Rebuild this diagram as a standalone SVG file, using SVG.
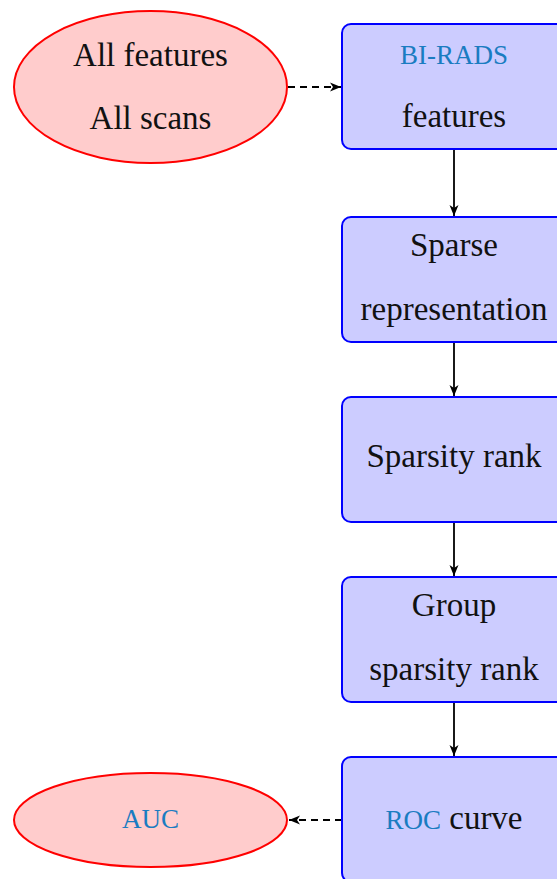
<svg xmlns="http://www.w3.org/2000/svg" width="557" height="879" viewBox="0 0 557 879">
  <style>
    .box { fill: #ccccff; stroke: #0000ff; stroke-width: 2; }
    .oval { fill: #ffcccc; stroke: #ff0000; stroke-width: 2; }
    .t { font-family: "Liberation Serif", "Times New Roman", serif; font-size: 33px; fill: #111; text-anchor: middle; }
    .s { font-family: "Liberation Serif", "Times New Roman", serif; font-size: 27px; fill: #1a7cc1; }
    .link { stroke: #000; stroke-width: 1.8; fill: none; }
    .dash { stroke-dasharray: 7 5; }
  </style>
  <defs>
    <!-- stealth-style arrow tip with a notched back -->
    <marker id="head" viewBox="0 0 11 10" refX="11" refY="5" markerWidth="11" markerHeight="10" markerUnits="userSpaceOnUse" orient="auto">
      <path d="M0,0.5 L11,5 L0,9.5 L3,5 Z" fill="#000"/>
    </marker>
  </defs>

  <g id="connectors">
    <line class="link dash" x1="288" y1="87" x2="341" y2="87" marker-end="url(#head)"/>
    <line class="link" x1="454" y1="149" x2="454" y2="216" marker-end="url(#head)"/>
    <line class="link" x1="454" y1="342" x2="454" y2="396" marker-end="url(#head)"/>
    <line class="link" x1="454" y1="522" x2="454" y2="576" marker-end="url(#head)"/>
    <line class="link" x1="454" y1="702" x2="454" y2="756" marker-end="url(#head)"/>
    <line class="link dash" x1="342" y1="820" x2="289" y2="820" marker-end="url(#head)"/>
  </g>

  <g id="all-data">
    <ellipse class="oval" cx="150.5" cy="87" rx="136.5" ry="76"/>
    <text class="t" x="150.5" y="66">All features</text>
    <text class="t" x="150.5" y="129">All scans</text>
  </g>

  <g id="birads">
    <rect class="box" x="342" y="24" width="224" height="125" rx="9"/>
    <text class="s" x="454" y="64" text-anchor="middle">BI-RADS</text>
    <text class="t" x="454" y="127">features</text>
  </g>

  <g id="sparse-rep">
    <rect class="box" x="342" y="217" width="224" height="125" rx="9"/>
    <text class="t" x="454" y="256">Sparse</text>
    <text class="t" x="454" y="320">representation</text>
  </g>

  <g id="sparsity-rank">
    <rect class="box" x="342" y="397" width="224" height="125" rx="9"/>
    <text class="t" x="454" y="467">Sparsity rank</text>
  </g>

  <g id="group-rank">
    <rect class="box" x="342" y="577" width="224" height="125" rx="9"/>
    <text class="t" x="454" y="616">Group</text>
    <text class="t" x="454" y="680">sparsity rank</text>
  </g>

  <g id="roc">
    <rect class="box" x="342" y="757" width="224" height="125" rx="9"/>
    <text class="t" x="454" y="829"><tspan class="s">ROC</tspan> curve</text>
  </g>

  <g id="auc">
    <ellipse class="oval" cx="150.5" cy="820" rx="136.5" ry="47"/>
    <text class="s" x="150.5" y="828" text-anchor="middle">AUC</text>
  </g>
</svg>
